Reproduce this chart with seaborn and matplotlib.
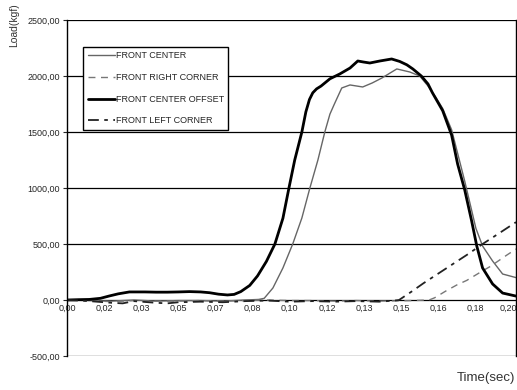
import matplotlib
matplotlib.use("Agg")
import matplotlib.pyplot as plt
import matplotlib.transforms as mtransforms
import seaborn as sns
import pandas as pd

# ---- data ----
t_offset = [0.000, 0.005, 0.010, 0.015, 0.019, 0.023, 0.028, 0.035, 0.040, 0.045, 0.050, 0.055,
            0.060, 0.064, 0.068, 0.072, 0.075, 0.078, 0.082, 0.0855, 0.0895, 0.0933, 0.0969,
            0.0996, 0.1022, 0.1054, 0.1072, 0.1088, 0.1103, 0.112, 0.1140, 0.118, 0.1224, 0.127,
            0.1305, 0.133, 0.1359, 0.1404, 0.1457, 0.1493, 0.1525, 0.1552, 0.159, 0.162, 0.164,
            0.1686, 0.1726, 0.1753, 0.1785, 0.1816, 0.1839, 0.1865, 0.191, 0.1955, 0.2015]
front_center_offset = [0, 3, 5, 15, 36, 55, 72, 72, 70, 70, 72, 75,
                       72, 65, 52, 45, 50, 75, 130, 215, 345, 500, 730,
                       1000, 1250, 1500, 1680, 1790, 1850, 1885, 1910, 1975, 2018, 2071,
                       2134, 2125, 2116, 2134, 2152, 2130, 2100, 2063, 2000, 1929, 1850,
                       1690, 1473, 1214, 982, 705, 482, 286, 143, 62, 35]

t_center = [0.000, 0.010, 0.020, 0.030, 0.040, 0.050, 0.060, 0.070, 0.080, 0.086, 0.0885, 0.0924,
            0.0969, 0.1013, 0.1054, 0.109, 0.1126, 0.1157, 0.118, 0.120, 0.1233, 0.127, 0.1327,
            0.137, 0.1413, 0.148, 0.1538, 0.1583, 0.162, 0.1655, 0.1686, 0.1726, 0.1753, 0.1785,
            0.1816, 0.1835, 0.1865, 0.191, 0.1955, 0.2015]
front_center = [0, -5, -10, 0, -10, -5, -5, -10, 0, 5, 15, 107,
                286, 500, 732, 1000, 1250, 1500, 1660, 1750, 1893, 1920, 1902,
                1938, 1982, 2063, 2036, 2000, 1911, 1810, 1710, 1520, 1310, 1060,
                800, 640, 482, 348, 232, 200]

t_left = [0.000, 0.010, 0.020, 0.025, 0.030, 0.040, 0.045, 0.050, 0.060, 0.070, 0.080, 0.090,
          0.100, 0.110, 0.120, 0.130, 0.140, 0.147, 0.149, 0.155, 0.160, 0.165, 0.170, 0.175,
          0.180, 0.1865, 0.190, 0.195, 0.2015]
front_left_corner = [0, -10, -25, -30, -10, -25, -30, -20, -15, -20, -10, -5,
                     -15, -10, -15, -10, -15, -5, 0, 80, 150, 215, 280, 345,
                     410, 500, 545, 610, 695]

t_right = [0.000, 0.010, 0.020, 0.030, 0.040, 0.050, 0.060, 0.070, 0.080, 0.090, 0.100, 0.110,
           0.120, 0.130, 0.140, 0.155, 0.1625, 0.165, 0.170, 0.175, 0.1794, 0.1865, 0.190, 0.1973,
           0.2015]
front_right_corner = [0, -5, -15, -5, -10, -10, -5, -10, -5, 0, -5, -5,
                      -10, -5, -10, -5, 0, 20, 80, 135, 175, 260, 300, 400,
                      455]

y_ticks = [-500, 0, 500, 1000, 1500, 2000, 2500]
x_ticks = [0.0, 0.0167, 0.0333, 0.05, 0.0667, 0.0833, 0.10, 0.1167, 0.1333, 0.15, 0.1667, 0.1833, 0.20]
x_tick_labels = ["0,00", "0,02", "0,03", "0,05", "0,07", "0,08", "0,10", "0,12", "0,13",
                 "0,15", "0,16", "0,18", "0,20"]

# ---- style ----
sns.set_style("white")
narrow = ["Liberation Sans Narrow", "Liberation Sans", "DejaVu Sans"]
plt.rcParams["font.family"] = narrow

fig = plt.figure(figsize=(5.17, 3.90), dpi=100)
ax = fig.add_axes([67 / 517, 1 - 356 / 390, (516 - 67) / 517, (356 - 20) / 390])

series = [
    ("FRONT CENTER", t_center, front_center, dict(color="#666666", lw=1.0, ls="-")),
    ("FRONT RIGHT CORNER", t_right, front_right_corner, dict(color="#777777", lw=1.0, ls=(0, (5, 4)))),
    ("FRONT CENTER OFFSET", t_offset, front_center_offset, dict(color="#000000", lw=2.0, ls="-")),
    ("FRONT LEFT CORNER", t_left, front_left_corner, dict(color="#222222", lw=1.3, ls=(0, (6, 3, 2, 3)))),
]
for name, t, v, st in series:
    df = pd.DataFrame({"t": t, "v": v})
    sns.lineplot(data=df, x="t", y="v", ax=ax, label=name, color=st["color"],
                 linewidth=st["lw"], linestyle=st["ls"], sort=False)

ax.set_xlim(0, 0.2015)
ax.set_ylim(-500, 2500)
ax.set_yticks(y_ticks)
ax.set_yticklabels([f"{v:.2f}".replace(".", ",") for v in y_ticks], fontsize=6.5)
for v in y_ticks:
    ax.axhline(v, color="black", lw=0.9, zorder=0.5)

ax.spines["bottom"].set_position(("data", 0))
ax.spines["bottom"].set_visible(False)
ax.spines["top"].set_visible(False)
ax.spines["left"].set_color("black")
ax.spines["left"].set_linewidth(1.0)
ax.spines["right"].set_color("black")
ax.spines["right"].set_linewidth(1.0)
ax.set_xticks(x_ticks)
ax.set_xticklabels(x_tick_labels, fontsize=6.5)
ax.tick_params(axis="x", length=0, pad=3)
ax.tick_params(axis="y", length=3, width=0.8, direction="out", left=True, pad=2)
last = ax.get_xticklabels()[-1]
last.set_transform(last.get_transform() + mtransforms.ScaledTranslation(-4 / 100, 0, fig.dpi_scale_trans))
ax.set_xlabel("")
ax.set_ylabel("")

fig.text(14 / 517, 1 - 25 / 390, "Load(kgf)", rotation=90, ha="center", va="center",
         fontsize=7.5, color="#333333", family=["Liberation Sans", "DejaVu Sans"])
fig.text(515 / 517, 1 - 378 / 390, "Time(sec)", ha="right", va="center",
         fontsize=9.5, color="#333333", family=narrow)

leg = ax.legend(loc="upper left", bbox_to_anchor=(0.036, 0.92), borderaxespad=0,
                fontsize=6.5, frameon=True, fancybox=False, handlelength=3.0,
                handletextpad=0.1, labelspacing=1.4, borderpad=0.5)
leg.get_frame().set_edgecolor("black")
leg.get_frame().set_linewidth(1.0)
leg.get_frame().set_alpha(1)

fig.savefig("out.png", dpi=100)
